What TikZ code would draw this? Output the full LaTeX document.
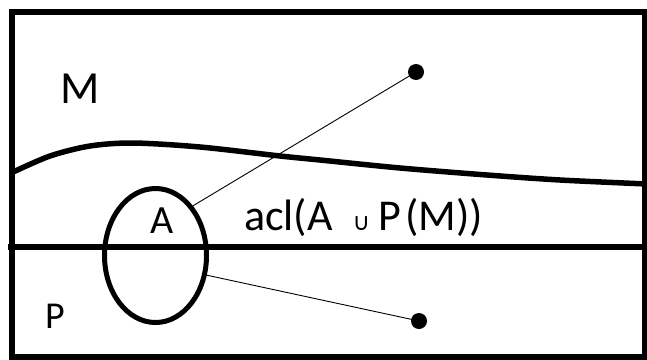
\documentclass[tikz,border=0pt]{standalone}
\usepackage{fontspec}
\setmainfont{Carlito}
\newfontfamily\symfont{DejaVu Sans}
\usetikzlibrary{shapes.geometric}
\begin{document}
\begin{tikzpicture}[x=1pt,y=-1pt,
  thick line/.style={line width=5.5pt},
  thin line/.style={line width=0.9pt},
  dotnode/.style={circle,fill=black,inner sep=0pt,minimum size=16pt},
  lbl/.style={inner sep=0pt,anchor=base west}]
\useasboundingbox (0,0) rectangle (647,359);
\clip (0,0) rectangle (647,359);
\fill[white] (0,0) rectangle (647,359);
% frame
\draw[line width=6pt] (11.5,11.5) rectangle (645,356.5);
% horizontal line
\draw[thick line] (8,247) -- (647,247);
% curve
\draw[thick line] plot[smooth] coordinates {(11,173) (50,156) (90,146) (133,143) (200,147) (280,156) (320,160) (400,168) (487,175) (560,180) (647,184)};
% ellipse
\node[draw,ellipse,line width=5pt,minimum width=102pt,minimum height=134pt,inner sep=0pt] (e) at (155.5,255.5) {};
% dots
\node[dotnode] (d1) at (416,72) {};
\node[dotnode] (d2) at (419,321) {};
\draw[thin line] (e.53) -- (d1.center);
\draw[thin line] (e.-21) -- (d2.center);
% labels
\node[lbl,font=\fontsize{46}{50}\selectfont] (M) at (60,103) {M};
\node[lbl,font=\fontsize{40}{44}\selectfont] (A) at (150,233) {A};
\node[lbl,font=\fontsize{38}{42}\selectfont] (P) at (45,328) {P};
\node[lbl,font=\fontsize{44}{48}\selectfont] (acl) at (244,230) {acl(A\hspace{0.45em}{\fontsize{24}{26}\selectfont\symfont ∪}\hspace{0.2em}P\hspace{0.08em}(M))};
\end{tikzpicture}
\end{document}
